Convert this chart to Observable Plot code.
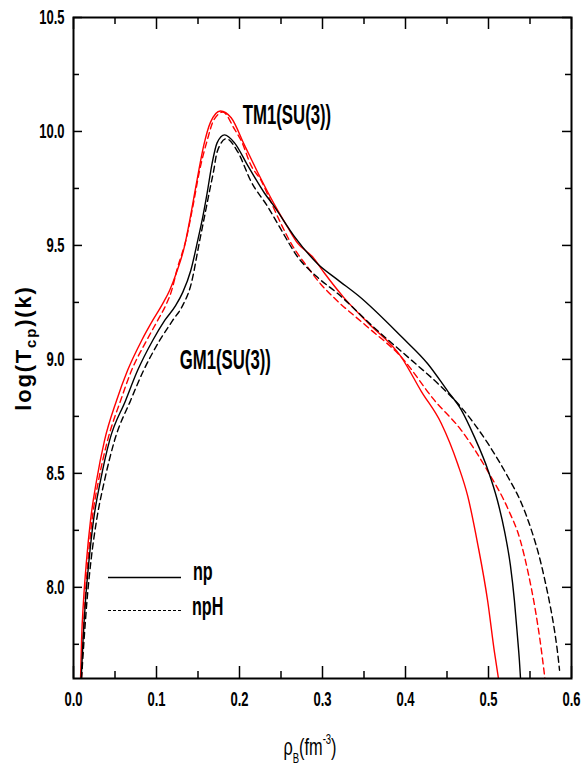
<!DOCTYPE html>
<html><head><meta charset="utf-8">
<script src="https://cdn.jsdelivr.net/npm/d3@7"></script>
<script src="https://cdn.jsdelivr.net/npm/@observablehq/plot@0.6"></script>
<style>
body{margin:0;background:#fff;}
#wrap{position:relative;width:583px;height:767px;}
</style></head><body><div id="wrap"></div>
<script>
// TM1(SU(3)) np  (red solid)
const tm1NpX = [0.0085,0.0097,0.0121,0.0157,0.0205,0.0278,0.0374,0.0519,0.0652,0.0821,0.0954,0.1063,0.1159,0.124,0.134,0.139,0.149,0.157,0.165,0.177,0.190,0.206,0.222,0.242,0.258,0.270,0.288,0.302,0.326,0.355,0.395,0.419,0.443,0.463,0.475,0.487,0.499,0.507,0.512];
const tm1NpY = [7.60,7.768,7.943,8.118,8.294,8.469,8.645,8.820,8.952,9.083,9.171,9.237,9.303,9.38,9.50,9.59,9.79,9.94,10.04,10.09,10.06,9.94,9.82,9.68,9.58,9.51,9.45,9.38,9.27,9.16,9.01,8.86,8.72,8.54,8.40,8.19,7.94,7.72,7.60];
// TM1(SU(3)) npH (red dashed)
const tm1NpHX = [0.0097,0.0115,0.0139,0.0175,0.0223,0.0302,0.0411,0.0568,0.0700,0.0881,0.1014,0.1111,0.1183,0.1244,0.1365,0.144,0.152,0.161,0.169,0.180,0.194,0.202,0.214,0.226,0.238,0.250,0.262,0.282,0.298,0.314,0.355,0.395,0.435,0.467,0.499,0.524,0.538,0.548,0.556,0.562,0.568];
const tm1NpHY = [7.60,7.768,7.943,8.118,8.294,8.469,8.645,8.820,8.952,9.083,9.171,9.237,9.303,9.390,9.539,9.675,9.83,9.96,10.05,10.085,10.01,9.96,9.85,9.785,9.69,9.595,9.51,9.405,9.33,9.27,9.14,9.01,8.82,8.69,8.51,8.34,8.21,8.06,7.91,7.77,7.60];
// GM1(SU(3)) np (black solid)
const gm1NpX = [0.0093,0.0115,0.0145,0.0187,0.0241,0.0326,0.0435,0.0628,0.0773,0.0954,0.1099,0.1232,0.1316,0.1413,0.1497,0.156,0.161,0.167,0.173,0.182,0.194,0.210,0.230,0.242,0.266,0.294,0.318,0.343,0.395,0.427,0.451,0.467,0.483,0.4995,0.5107,0.5191,0.5264,0.5312,0.5348,0.5372,0.5385];
const gm1NpY = [7.60,7.768,7.943,8.118,8.294,8.469,8.645,8.820,8.952,9.083,9.171,9.237,9.294,9.390,9.522,9.63,9.73,9.86,9.95,9.985,9.95,9.85,9.73,9.67,9.54,9.42,9.35,9.28,9.10,8.98,8.86,8.78,8.66,8.513,8.382,8.250,8.096,7.943,7.789,7.680,7.605];
// GM1(SU(3)) npH (black dashed)
const gm1NpHX = [0.0097,0.0127,0.0163,0.0211,0.0278,0.0374,0.0495,0.0688,0.0845,0.1038,0.1195,0.1316,0.1413,0.1521,0.158,0.164,0.169,0.173,0.184,0.198,0.214,0.234,0.250,0.270,0.294,0.318,0.362,0.403,0.443,0.467,0.4995,0.5236,0.5397,0.5518,0.5614,0.5687,0.5747,0.5795,0.5832,0.5856];
const gm1NpHY = [7.60,7.768,7.943,8.118,8.294,8.469,8.645,8.820,8.952,9.083,9.171,9.237,9.325,9.522,9.63,9.74,9.83,9.91,9.968,9.91,9.78,9.67,9.57,9.45,9.36,9.29,9.14,9.01,8.88,8.79,8.630,8.483,8.369,8.250,8.132,8.018,7.912,7.811,7.715,7.636];

const xTickLabels = [0.0,0.1,0.2,0.3,0.4,0.5,0.6];
const xMinorTicks = [0.05,0.15,0.25,0.35,0.45,0.55];
const yTickLabels = [8.0,8.5,9.0,9.5,10.0,10.5];
const yMinorTicks = [7.75,8.25,8.75,9.25,9.75,10.25];

const annotations = [
  {x:0.204, y:10.070, text:"TM1(SU(3))"},
  {x:0.128, y:8.996, text:"GM1(SU(3))"}
];
const legendLabels = ["np","npH"];

const series = [
  {xs:tm1NpX, ys:tm1NpY, color:"#ff0000", dash:null},
  {xs:tm1NpHX, ys:tm1NpHY, color:"#ff0000", dash:"6,4"},
  {xs:gm1NpX, ys:gm1NpY, color:"#000000", dash:null},
  {xs:gm1NpHX, ys:gm1NpHY, color:"#000000", dash:"6,4"}
];

const W=583,H=767, mt=17, mb=89, ml=73, mr=12;
const fw = W-ml-mr, fh = H-mt-mb;
const FONT = "'Liberation Sans',Arial,sans-serif";
const K = 0.62; // horizontal compression of the condensed lettering

const lineMarks = series.map(s => Plot.line(s.xs.map((x,i)=>({x, y:s.ys[i]})), {
  x:"x", y:"y", stroke:s.color, strokeWidth:1.4, strokeDasharray:s.dash, curve:"monotone-x", clip:true
}));

const plot = Plot.plot({
  width:W, height:H, marginTop:mt, marginBottom:mb, marginLeft:ml, marginRight:mr,
  x:{domain:[0,0.6]}, y:{domain:[7.6,10.5]},
  style:{fontFamily:FONT, fontSize:"21px", fontWeight:"bold", color:"#000", background:"#fff", overflow:"visible"},
  marks:[
    ...lineMarks,
    Plot.ruleX(xTickLabels, {x:d=>d, insetTop:fh-12, strokeWidth:1.5}),
    Plot.ruleX(xTickLabels, {x:d=>d, insetBottom:fh-12, strokeWidth:1.5}),
    Plot.ruleX(xMinorTicks, {x:d=>d, insetTop:fh-7, strokeWidth:1.5}),
    Plot.ruleX(xMinorTicks, {x:d=>d, insetBottom:fh-7, strokeWidth:1.5}),
    Plot.ruleY(yTickLabels, {y:d=>d, insetRight:fw-9, strokeWidth:1.5}),
    Plot.ruleY(yTickLabels, {y:d=>d, insetLeft:fw-9, strokeWidth:1.5}),
    Plot.ruleY(yMinorTicks, {y:d=>d, insetRight:fw-6, strokeWidth:1.5}),
    Plot.ruleY(yMinorTicks, {y:d=>d, insetLeft:fw-6, strokeWidth:1.5}),
    Plot.axisX(xTickLabels, {tickSize:0, tickPadding:13, tickFormat:d=>d.toFixed(1), label:null, fontSize:21}),
    Plot.axisY(yTickLabels, {tickSize:0, tickPadding:9, tickFormat:d=>d.toFixed(1), label:null, fontSize:21}),
    Plot.text(annotations, {x:"x", y:"y", text:"text", fontSize:27, fontWeight:"bold", textAnchor:"start"}),
    Plot.frame({strokeWidth:2})
  ]
});
document.getElementById("wrap").appendChild(plot);

// compress Plot's lettering horizontally without touching its positions
plot.querySelectorAll("text").forEach(el => {
  const len = el.getComputedTextLength();
  if (len > 0) {
    el.setAttribute("textLength", (len*K).toFixed(2));
    el.setAttribute("lengthAdjust", "spacingAndGlyphs");
  }
});

const svg = d3.select(plot);
// y axis title
const yl = svg.append("text").attr("transform","translate(31,348) rotate(-90)")
  .attr("text-anchor","middle").attr("font-family",FONT)
  .attr("font-size",22).attr("font-weight","bold").attr("letter-spacing","1.8px").attr("fill","#000");
yl.append("tspan").text("log(T");
yl.append("tspan").attr("font-size",15).attr("dy",5).text("cp");
yl.append("tspan").attr("dy",-5).text(")(k)");
// x axis title
const xl = svg.append("text").attr("transform","translate(310,755) scale(0.68,1)")
  .attr("text-anchor","middle").attr("font-family",FONT)
  .attr("font-size",24).attr("font-weight","normal").attr("fill","#000");
xl.append("tspan").text("ρ");
xl.append("tspan").attr("font-size",14).attr("dy",8).text("B");
xl.append("tspan").attr("dy",-8).text("(fm");
xl.append("tspan").attr("font-size",14).attr("dy",-11).text("-3");
xl.append("tspan").attr("dy",11).text(")");
// legend
const lg = svg.append("g");
lg.append("line").attr("x1",108).attr("x2",181).attr("y1",577.5).attr("y2",577.5).attr("stroke","#000").attr("stroke-width",1.4);
lg.append("line").attr("x1",108).attr("x2",181).attr("y1",610.5).attr("y2",610.5).attr("stroke","#000").attr("stroke-width",1).attr("stroke-dasharray","3,2");
legendLabels.forEach((t,i)=>{
  lg.append("text").attr("transform",`translate(${i===0?193:192},${i===0?580:615}) scale(${K},1)`)
    .attr("text-anchor","start").attr("font-family",FONT).attr("font-size",26)
    .attr("font-weight","bold").attr("fill","#000").text(t);
});
</script>
</body></html>
